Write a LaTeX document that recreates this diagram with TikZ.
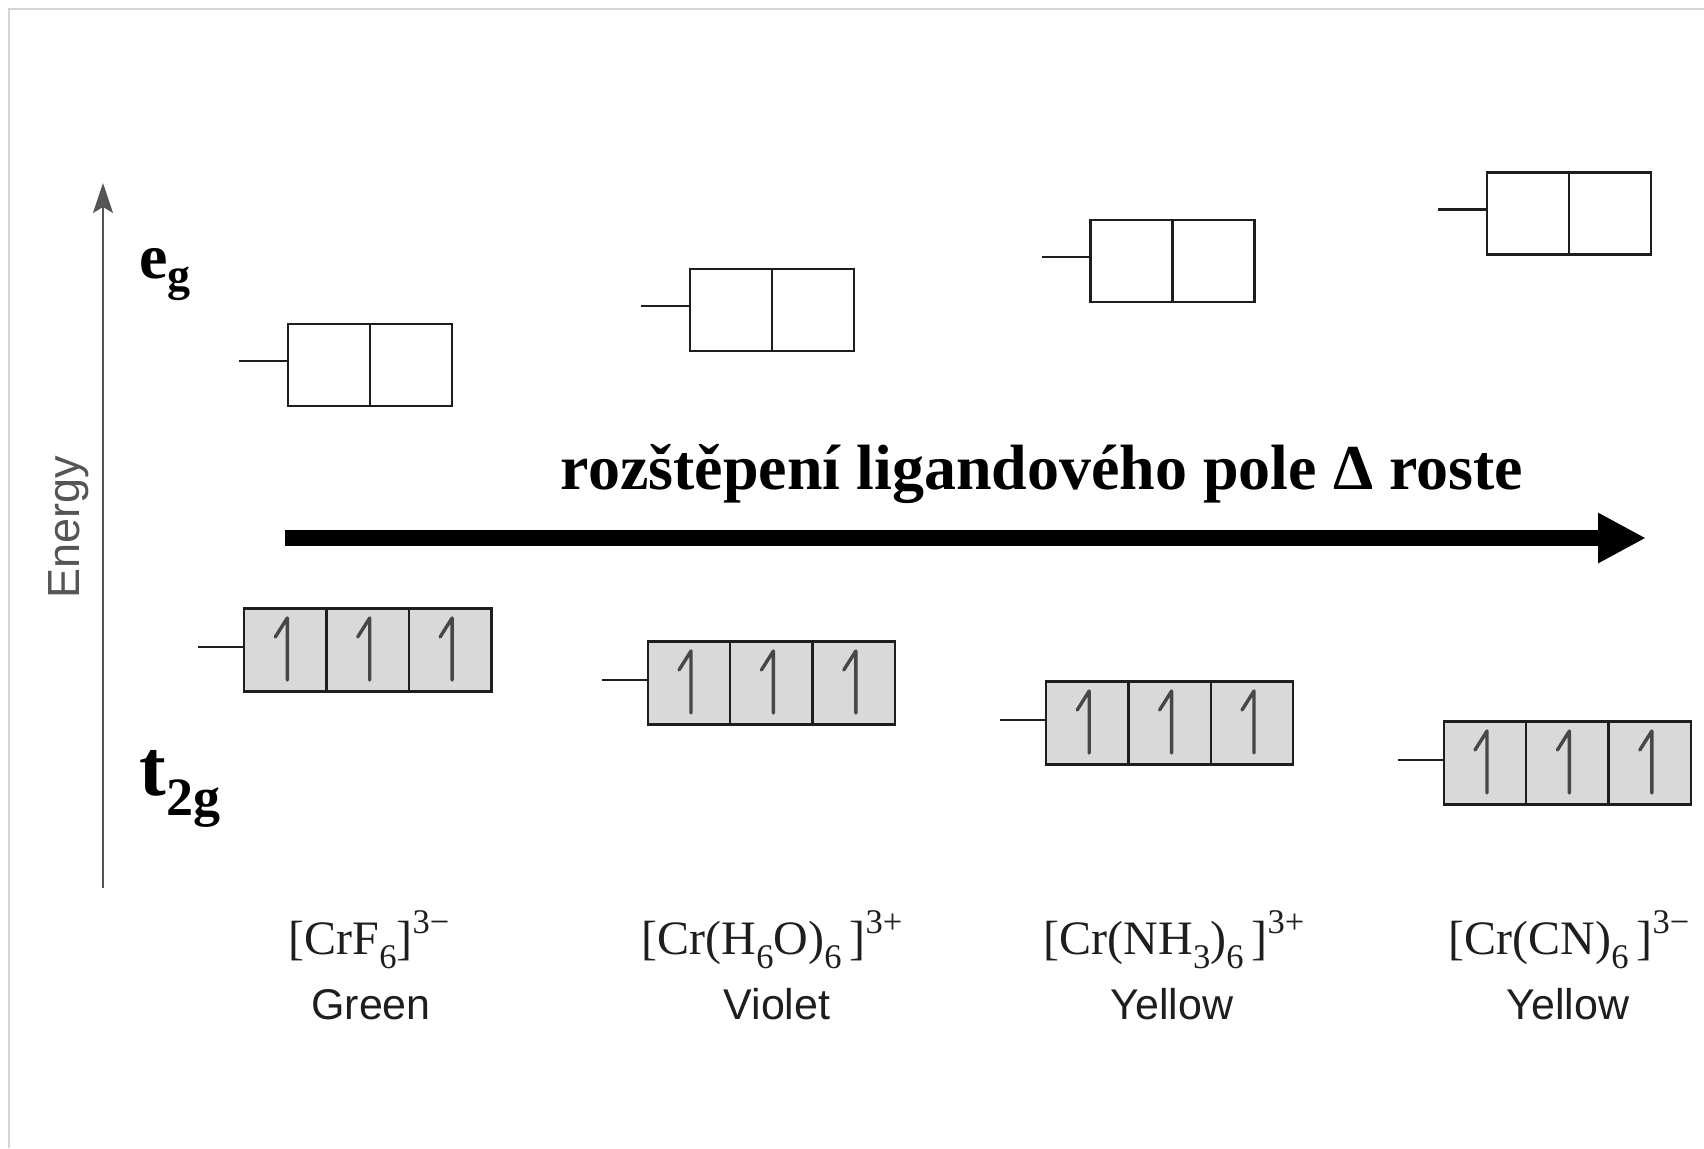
\documentclass[tikz,border=0pt]{standalone}
\usepackage{fontspec}
\setmainfont{Liberation Serif}
\newfontfamily\arialf{Liberation Sans}
\usepackage{graphicx}
\usetikzlibrary{arrows.meta}
\newcommand\csub[1]{\raisebox{-0.3em}{\scalebox{0.72}{#1}}}
\newcommand\csup[1]{\raisebox{0.42em}{\scalebox{0.72}{#1}}}
\definecolor{framec}{HTML}{D4D4D4}
\definecolor{axisc}{HTML}{555555}
\definecolor{inkc}{HTML}{1E1E1E}
\begin{document}
\begin{tikzpicture}[x=0.5pt,y=-0.5pt,
  egcell/.style={draw=inkc, line width=1.2pt, minimum width=41pt, minimum height=41pt, inner sep=0pt, outer sep=0pt},
  tcell/.style={egcell, fill=black!15, minimum width=41.2pt, minimum height=41.5pt},
  stubline/.style={draw=inkc, line width=1.2pt},
  spin/.style={draw=black!72, line width=1.7pt, line cap=round, line join=round},
  axisline/.style={draw=axisc, line width=1pt, -{Stealth[length=15pt,width=10pt,inset=3pt]}},
  bigarrow/.style={draw=black, line width=8pt, -{Triangle[length=24pt,width=23.5pt]}},
  formula/.style={anchor=base, text=inkc, font=\fontsize{24}{28}\selectfont},
  colname/.style={anchor=base, text=inkc, font=\arialf\fontsize{21.5}{24}\selectfont},
  level/.style={anchor=base west, inner sep=0pt, text=black}
]
\useasboundingbox (0,0) rectangle (1704,1148);
\draw[draw=framec, line width=1pt] (9,1148) -- (9,9) -- (1704,9);

% energy axis
\coordinate (ax0) at (103,888);
\coordinate (ax1) at (103,183);
\draw[axisline] (ax0) -- (ax1);
\node[rotate=90, anchor=base, text=axisc, font=\arialf\fontsize{22.5}{26}\selectfont] (energy) at (79,527) {Energy};

% level labels
\node[level, font=\fontsize{32}{36}\selectfont\bfseries] (eglab) at (139,278) {e\raisebox{-0.2em}{\fontsize{23}{23}\selectfont g}};
\node[level, font=\fontsize{40}{44}\selectfont\bfseries] (tlab) at (139,795) {t\raisebox{-0.25em}{\fontsize{27}{27}\selectfont 2g}};

% e_g boxes
\foreach \i/\x/\y in {1/329/365, 2/731/310, 3/1131.5/261, 4/1528/213.5}{
  \node[egcell] (e\i a) at (\x,\y) {};
  \node[egcell, anchor=west] (e\i b) at (e\i a.east) {};
  \coordinate (se\i) at ([shift={(-49,-4)}]e\i a.west);
  \draw[stubline] (se\i) -- (se\i -| e\i a.west);
}

% t_2g boxes
\foreach \i/\x/\y in {1/285.3/650, 2/689/683, 3/1087.2/723, 4/1485/763}{
  \node[tcell] (t\i a) at (\x,\y) {};
  \node[tcell, anchor=west] (t\i b) at (t\i a.east) {};
  \node[tcell, anchor=west] (t\i c) at (t\i b.east) {};
  \coordinate (st\i) at ([shift={(-46,-3)}]t\i a.west);
  \draw[stubline] (st\i) -- (st\i -| t\i a.west);
  \foreach \c in {a,b,c}{
    \draw[spin] ([shift={(2,30)}]t\i\c.center) -- ++(0,-62) -- ++(-12,19);
  }
}

% big arrow and its text
\coordinate (ar0) at (285,538);
\coordinate (ar1) at (1646,538);
\draw[bigarrow] (ar0) -- (ar1);
\node[anchor=base, text=black, font=\fontsize{32}{36}\selectfont\bfseries] (trend) at (1042,489) {rozštěpení ligandového pole Δ roste};

% complex labels
\node[formula] (f1) at (369,954) {[CrF\csub{6}]\csup{3−}};
\node[formula] (f2) at (772,954) {[Cr(H\csub{6}O)\csub{6}\,]\csup{3+}};
\node[formula] (f3) at (1174,954) {[Cr(NH\csub{3})\csub{6}\,]\csup{3+}};
\node[formula] (f4) at (1569,954) {[Cr(CN)\csub{6}\,]\csup{3−}};
\node[colname] (c1) at (371,1019) {Green};
\node[colname] (c2) at (777,1019) {Violet};
\node[colname] (c3) at (1172,1019) {Yellow};
\node[colname] (c4) at (1568,1019) {Yellow};
\end{tikzpicture}
\end{document}
